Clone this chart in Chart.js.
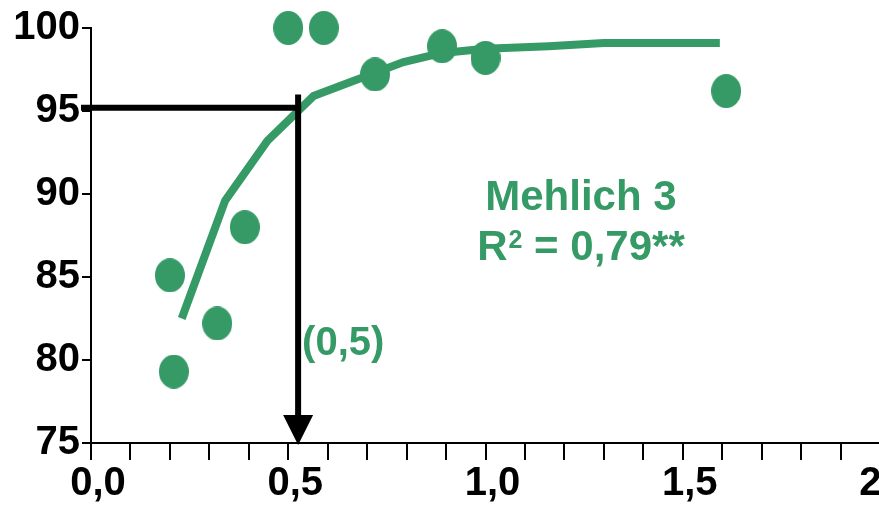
<!DOCTYPE html>
<html>
<head>
<meta charset="utf-8">
<script src="https://cdn.jsdelivr.net/npm/chart.js@4/dist/chart.umd.min.js"></script>
<style>
  html, body { margin: 0; padding: 0; background: #fff; overflow: hidden; width: 879px; height: 505px; }
  #box { width: 879px; height: 505px; overflow: hidden; }
</style>
</head>
<body>
<div id="box"><canvas id="myChart" width="912" height="505"></canvas></div>
<script>
// observed points
const obsX = [0.20, 0.21, 0.32, 0.39, 0.50, 0.59, 0.72, 0.89, 1.00, 1.61];
const obsY = [85.1, 79.3, 82.2, 88.0, 100.0, 100.0, 97.2, 98.9, 98.2, 96.2];
// fitted curve
const fitX = [0.23, 0.34, 0.447, 0.564, 0.792, 0.89, 1.00, 1.16, 1.30, 1.594];
const fitY = [82.5, 89.6, 93.2, 95.9, 97.95, 98.5, 98.75, 98.9, 99.1, 99.1];
// cut-off marker (x, y, top of vertical)
const cutX = 0.525;
const cutY = 95.2;
const cutTop = 96.0;
const cutLabel = '(0,5)';
const title = 'Mehlich 3';
const r2Parts = ['R', '2', ' = 0,79**'];

const green = '#359a66';
const font = 'Liberation Sans, Arial, sans-serif';

// slightly tall dots like the original
function dot() {
  const c = document.createElement('canvas');
  c.width = 30; c.height = 34;
  const g = c.getContext('2d');
  g.fillStyle = green;
  g.beginPath();
  g.ellipse(15, 17, 15, 17, 0, 0, Math.PI * 2);
  g.fill();
  return c;
}

const comma = v => v.toFixed(1).replace('.', ',');

const extras = {
  id: 'extras',
  afterDatasetsDraw(chart) {
    const ctx = chart.ctx;
    const xs = chart.scales.x, ys = chart.scales.y;
    const area = chart.chartArea;
    const px = xs.getPixelForValue(cutX);
    const py = ys.getPixelForValue(cutY);
    ctx.save();
    ctx.strokeStyle = '#000';
    ctx.fillStyle = '#000';
    ctx.lineWidth = 6;
    // horizontal
    ctx.beginPath();
    ctx.moveTo(area.left - 10, py);
    ctx.lineTo(px + 3, py);
    ctx.stroke();
    // vertical + arrow
    ctx.beginPath();
    ctx.moveTo(px, ys.getPixelForValue(cutTop));
    ctx.lineTo(px, area.bottom - 26);
    ctx.stroke();
    ctx.beginPath();
    ctx.moveTo(px - 15, area.bottom - 28);
    ctx.lineTo(px + 15, area.bottom - 28);
    ctx.lineTo(px, area.bottom + 2);
    ctx.closePath();
    ctx.fill();

    ctx.fillStyle = green;
    ctx.font = 'bold 40px ' + font;
    ctx.textAlign = 'left';
    ctx.textBaseline = 'alphabetic';
    ctx.fillText(cutLabel, px + 4, ys.getPixelForValue(80.3));

    ctx.font = 'bold 42px ' + font;
    ctx.textAlign = 'center';
    const tx = xs.getPixelForValue(1.242);
    ctx.fillText(title, tx, ys.getPixelForValue(89.03));

    // R² line, superscript drawn by hand
    ctx.textAlign = 'left';
    const big = 'bold 42px ' + font, small = 'bold 25px ' + font;
    ctx.font = big;
    const w0 = ctx.measureText(r2Parts[0]).width;
    const w2 = ctx.measureText(r2Parts[2]).width;
    ctx.font = small;
    const w1 = ctx.measureText(r2Parts[1]).width + 1;
    const base = ys.getPixelForValue(86.0);
    let x0 = tx - (w0 + w1 + w2) / 2;
    ctx.font = big;
    ctx.fillText(r2Parts[0], x0, base);
    ctx.font = small;
    ctx.fillText(r2Parts[1], x0 + w0 + 1, base - 12);
    ctx.font = big;
    ctx.fillText(r2Parts[2], x0 + w0 + w1, base);
    ctx.restore();
  }
};

const data = {
  datasets: [{
    type: 'line',
    data: fitX.map((x, i) => ({x: x, y: fitY[i]})),
    borderColor: green,
    borderWidth: 8,
    borderCapStyle: 'butt',
    borderJoinStyle: 'miter',
    pointRadius: 0,
    tension: 0,
    fill: false,
    clip: false
  }, {
    type: 'scatter',
    data: obsX.map((x, i) => ({x: x, y: obsY[i]})),
    pointStyle: dot(),
    clip: false
  }]
};

const config = {
  type: 'scatter',
  data: data,
  options: {
    responsive: false,
    animation: false,
    layout: { padding: { top: 28, right: 32, left: 0, bottom: 0 } },
    plugins: { legend: { display: false }, tooltip: { enabled: false } },
    scales: {
      x: {
        type: 'linear', min: 0, max: 2,
        afterFit: s => { s.height = 62; },
        border: { display: true, color: '#000', width: 2 },
        grid: { drawOnChartArea: false, drawTicks: true, tickLength: 17, color: '#000', lineWidth: 2 },
        ticks: {
          stepSize: 0.1, autoSkip: false, maxRotation: 0, padding: 0, labelOffset: 7,
          color: '#000', font: { family: font, size: 40, weight: 'bold' },
          callback: v => Math.abs(v * 2 - Math.round(v * 2)) < 1e-6 ? comma(v) : ''
        }
      },
      y: {
        min: 75, max: 100,
        afterFit: s => { s.width = 91; },
        border: { display: true, color: '#000', width: 2 },
        grid: { drawOnChartArea: false, drawTicks: true, tickLength: 9, color: '#000', lineWidth: 2 },
        ticks: {
          stepSize: 5, padding: 2,
          color: '#000', font: { family: font, size: 40, weight: 'bold' }
        }
      }
    }
  },
  plugins: [extras]
};

const myChart = new Chart(document.getElementById('myChart'), config);
</script>
</body>
</html>
